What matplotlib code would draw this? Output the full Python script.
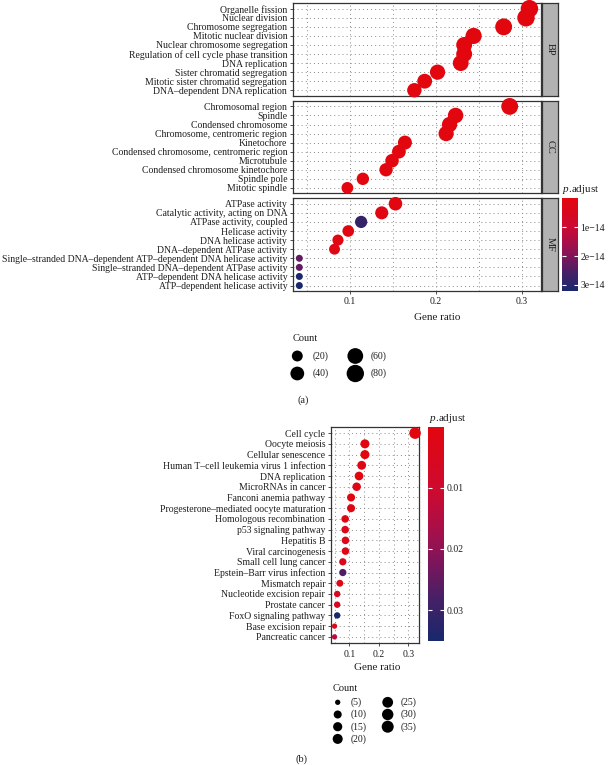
import numpy as np
import matplotlib
matplotlib.use('Agg')
import matplotlib.pyplot as plt
from matplotlib.colors import LinearSegmentedColormap, Normalize
from matplotlib.cm import ScalarMappable

plt.rcParams['font.family'] = ['Liberation Serif', 'DejaVu Serif']
plt.rcParams['mathtext.fontset'] = 'custom'
plt.rcParams['mathtext.rm'] = 'Liberation Serif'
plt.rcParams['mathtext.it'] = 'Liberation Serif:italic'

# ---------------- data: panel (a) GO enrichment ----------------
bp_terms = ["Organelle fission", "Nuclear division", "Chromosome segregation",
            "Mitotic nuclear division", "Nuclear chromosome segregation",
            "Regulation of cell cycle phase transition", "DNA replication",
            "Sister chromatid segregation", "Mitotic sister chromatid segregation",
            "DNA–dependent DNA replication"]
bp_ratio = [0.309, 0.305, 0.279, 0.244, 0.233, 0.233, 0.229, 0.202, 0.187, 0.175]
bp_count = [82, 81, 74, 65, 62, 62, 61, 54, 50, 46]
bp_padj = [1e-40, 2e-39, 5e-35, 3e-33, 1e-32, 4e-32, 2e-31, 6e-30, 1e-28, 3e-26]

cc_terms = ["Chromosomal region", "Spindle", "Condensed chromosome",
            "Chromosome, centromeric region", "Kinetochore",
            "Condensed chromosome, centromeric region", "Microtubule",
            "Condensed chromosome kinetochore", "Spindle pole", "Mitotic spindle"]
cc_ratio = [0.286, 0.223, 0.216, 0.212, 0.164, 0.157, 0.149, 0.142, 0.115, 0.097]
cc_count = [73, 57, 55, 54, 42, 40, 38, 36, 29, 25]
cc_padj = [1e-35, 2e-30, 5e-31, 1e-29, 3e-27, 6e-26, 2e-22, 4e-25, 1e-20, 5e-19]

mf_terms = ["ATPase activity", "Catalytic activity, acting on DNA",
            "ATPase activity, coupled", "Helicase activity", "DNA helicase activity",
            "DNA–dependent ATPase activity",
            "Single–stranded DNA–dependent ATP–dependent DNA helicase activity",
            "Single–stranded DNA–dependent ATPase activity",
            "ATP–dependent DNA helicase activity", "ATP–dependent helicase activity"]
mf_ratio = [0.153, 0.137, 0.113, 0.098, 0.086, 0.082, 0.041, 0.041, 0.041, 0.041]
mf_count = [38, 34, 28, 24, 21, 20, 10, 10, 10, 10]
mf_padj = [4e-16, 1.2e-15, 2.8e-14, 8e-16, 1.1e-15, 1.6e-15, 2.3e-14, 2.3e-14, 3.2e-14, 3.2e-14]

facet_labels = ["BP", "CC", "MF"]
count_breaks_a = [20, 40, 60, 80]
padj_ticks_a = [1e-14, 2e-14, 3e-14]
padj_ticklabels_a = ["1e−14", "2e−14", "3e−14"]

# ---------------- data: panel (b) KEGG enrichment ----------------
kegg_terms = ["Cell cycle", "Oocyte meiosis", "Cellular senescence",
              "Human T–cell leukemia virus 1 infection", "DNA replication",
              "MicroRNAs in cancer", "Fanconi anemia pathway",
              "Progesterone–mediated oocyte maturation", "Homologous recombination",
              "p53 signaling pathway", "Hepatitis B", "Viral carcinogenesis",
              "Small cell lung cancer", "Epstein–Barr virus infection", "Mismatch repair",
              "Nucleotide excision repair", "Prostate cancer", "FoxO signaling pathway",
              "Base excision repair", "Pancreatic cancer"]
kegg_ratio = [0.323, 0.153, 0.153, 0.142, 0.133, 0.125, 0.106, 0.106, 0.086, 0.086,
              0.087, 0.087, 0.078, 0.078, 0.068, 0.059, 0.059, 0.059, 0.050, 0.050]
kegg_count = [35, 16, 16, 15, 14, 13, 11, 11, 9, 9, 9, 9, 8, 8, 7, 6, 6, 6, 5, 5]
kegg_padj = [1e-12, 2e-4, 4e-4, 1.5e-3, 1e-5, 2.5e-3, 1e-3, 1.2e-3, 2e-3, 2.5e-3,
             3e-3, 3e-3, 3.5e-3, 0.027, 2.5e-3, 6e-3, 6e-3, 0.0350, 3e-3, 0.014]
count_breaks_b = [5, 10, 15, 20, 25, 30, 35]
padj_ticks_b = [0.01, 0.02, 0.03]
padj_ticklabels_b = ["0.01", "0.02", "0.03"]

ratio_ticks = [0.1, 0.2, 0.3]
ratio_minor = [0.05, 0.15, 0.25]

# ---------------- styling ----------------
W, H, DPI = 610, 765, 100
cmap = LinearSegmentedColormap.from_list(
    "padj", [(0.0, "#E2060F"), (0.3, "#CD0A30"), (0.5, "#A3104C"),
             (0.65, "#78165C"), (0.8, "#472066"), (1.0, "#18286C")])
TXT = "#1e1e1e"
EDGE = "#333333"
GRID = "#8a8a8a"
GRID_LS = (0, (1, 3.2))
FS = 7.0

fig = plt.figure(figsize=(W / DPI, H / DPI), dpi=DPI)


def px_axes(x0, y0, x1, y1):
    return fig.add_axes([x0 / W, 1 - y1 / H, (x1 - x0) / W, (y1 - y0) / H])


def diam(c, cmin, cmax, dmin, dmax):
    rel = (np.asarray(c, float) - cmin) / (cmax - cmin)
    return dmin + np.sqrt(np.clip(rel, 0, 1)) * (dmax - dmin)


def area(d_px):
    return (np.asarray(d_px) * 72.0 / DPI) ** 2


def style_axes(ax, terms, xlim, show_x):
    n = len(terms)
    ax.set_xlim(*xlim)
    ax.set_ylim(n - 0.4, -0.6)
    ax.set_yticks(np.arange(n))
    ax.set_yticklabels(terms, fontsize=FS, color=TXT)
    ax.set_xticks(ratio_ticks)
    ax.set_xticks(ratio_minor, minor=True)
    ax.grid(which='both', axis='x', ls=GRID_LS, color=GRID, lw=0.7)
    ax.grid(which='major', axis='y', ls=GRID_LS, color=GRID, lw=0.7)
    ax.set_axisbelow(True)
    for s in ax.spines.values():
        s.set_color(EDGE)
        s.set_linewidth(0.9)
    ax.tick_params(axis='y', length=2.5, width=0.6, color=EDGE, pad=1.5)
    ax.tick_params(which='minor', length=0)
    if show_x:
        ax.set_xticklabels(["0.1", "0.2", "0.3"], fontsize=FS, color=TXT)
        ax.tick_params(axis='x', which='major', length=2.5, width=0.6, color=EDGE, pad=2)
    else:
        ax.tick_params(axis='x', which='major', length=0, labelbottom=False)


# ---------------- panel (a) ----------------
all_counts_a = bp_count + cc_count + mf_count
cmin_a, cmax_a = min(all_counts_a), max(all_counts_a)
all_p_a = bp_padj + cc_padj + mf_padj
norm_a = Normalize(vmin=min(all_p_a), vmax=max(all_p_a))
xlim_a = (0.0333, 0.3219)

panel_rows = [(3.3, 95.7), (101.0, 193.3), (198.3, 291.0)]
groups = [(bp_terms, bp_ratio, bp_count, bp_padj),
          (cc_terms, cc_ratio, cc_count, cc_padj),
          (mf_terms, mf_ratio, mf_count, mf_padj)]
for k, ((y0, y1), (terms, ratio, count, padj)) in enumerate(zip(panel_rows, groups)):
    ax = px_axes(292.7, y0, 540.5, y1)
    style_axes(ax, terms, xlim_a, show_x=(k == 2))
    ax.scatter(ratio, np.arange(len(terms)), s=area(diam(count, cmin_a, cmax_a, 7.0, 17.5)),
               c=padj, cmap=cmap, norm=norm_a, linewidths=0, zorder=3, clip_on=False)
    st = px_axes(541.8, y0, 558.3, y1)
    st.set_facecolor("#b2b2b2")
    st.set_xticks([]); st.set_yticks([])
    for s in st.spines.values():
        s.set_color(EDGE)
        s.set_linewidth(0.9)
    st.text(0.5, 0.5, facet_labels[k], rotation=-90, ha='center', va='center',
            fontsize=7.5, color=TXT, transform=st.transAxes)

cax_a = px_axes(562.3, 198.3, 578.3, 290.7)
cb_a = fig.colorbar(ScalarMappable(norm=norm_a, cmap=cmap), cax=cax_a)
cb_a.outline.set_visible(False)
cax_a.invert_yaxis()
cb_a.set_ticks(padj_ticks_a)
cb_a.set_ticklabels(padj_ticklabels_a)
cax_a.tick_params(axis='y', which='major', left=True, right=True, direction='in',
                  color='white', length=3, width=0.8, labelsize=FS, labelcolor=TXT, pad=1.5)
cax_a.tick_params(which='minor', length=0)

# ---------------- panel (b) ----------------
cmin_b, cmax_b = min(kegg_count), max(kegg_count)
norm_b = Normalize(vmin=0.0, vmax=max(kegg_padj))
ax_b = px_axes(330.7, 426.7, 419.3, 643.3)
style_axes(ax_b, kegg_terms, (0.037, 0.3373), show_x=True)
ax_b.scatter(kegg_ratio, np.arange(len(kegg_terms)),
             s=area(diam(kegg_count, cmin_b, cmax_b, 5.3, 11.5)),
             c=kegg_padj, cmap=cmap, norm=norm_b, linewidths=0, zorder=3, clip_on=False)

cax_b = px_axes(428.3, 426.7, 444.3, 640.7)
cb_b = fig.colorbar(ScalarMappable(norm=norm_b, cmap=cmap), cax=cax_b)
cb_b.outline.set_visible(False)
cax_b.invert_yaxis()
cb_b.set_ticks(padj_ticks_b)
cb_b.set_ticklabels(padj_ticklabels_b)
cax_b.tick_params(axis='y', which='major', left=True, right=True, direction='in',
                  color='white', length=3, width=0.8, labelsize=FS, labelcolor=TXT, pad=1.5)
cax_b.tick_params(which='minor', length=0)

# ---------------- overlay: titles, legends, captions ----------------
ov = fig.add_axes([0, 0, 1, 1])
ov.set_xlim(0, W)
ov.set_ylim(H, 0)
ov.axis('off')

ov.text(437, 317, "Gene ratio", ha='center', va='center', fontsize=8, color=TXT)
ov.text(377, 668, "Gene ratio", ha='center', va='center', fontsize=8, color=TXT)
ov.text(562, 189, r"$p$.adjust", ha='left', va='center', fontsize=8, color=TXT)
ov.text(429, 418, r"$p$.adjust", ha='left', va='center', fontsize=8, color=TXT)
ov.text(303, 400, "(a)", ha='center', va='center', fontsize=7.5, color=TXT)
ov.text(301, 759, "(b)", ha='center', va='center', fontsize=7.5, color=TXT)


def size_legend(breaks, nrows, x0, y0, title_y, colw, rowh, cmin, cmax, dmin, dmax, lab_off):
    ov.text(x0 - 5, title_y, "Count", ha='left', va='center', fontsize=7.5, color=TXT)
    idx = np.arange(len(breaks))
    xs = x0 + (idx // nrows) * colw
    ys = y0 + (idx % nrows) * rowh
    ov.scatter(xs, ys, s=area(diam(breaks, cmin, cmax, dmin, dmax)), c='black',
               linewidths=0)
    for xx, yy, b in zip(xs, ys, breaks):
        ov.text(xx + lab_off, yy, f"({b})", ha='left', va='center', fontsize=7, color=TXT)


size_legend(count_breaks_a, 2, 297.3, 356.0, 338.0, 58.0, 17.5, cmin_a, cmax_a, 7.0, 17.5, 15.5)
size_legend(count_breaks_b, 4, 337.7, 702.3, 688.3, 50.0, 12.2, cmin_b, cmax_b, 5.3, 12.0, 13.0)

fig.savefig("out.png", dpi=DPI)
